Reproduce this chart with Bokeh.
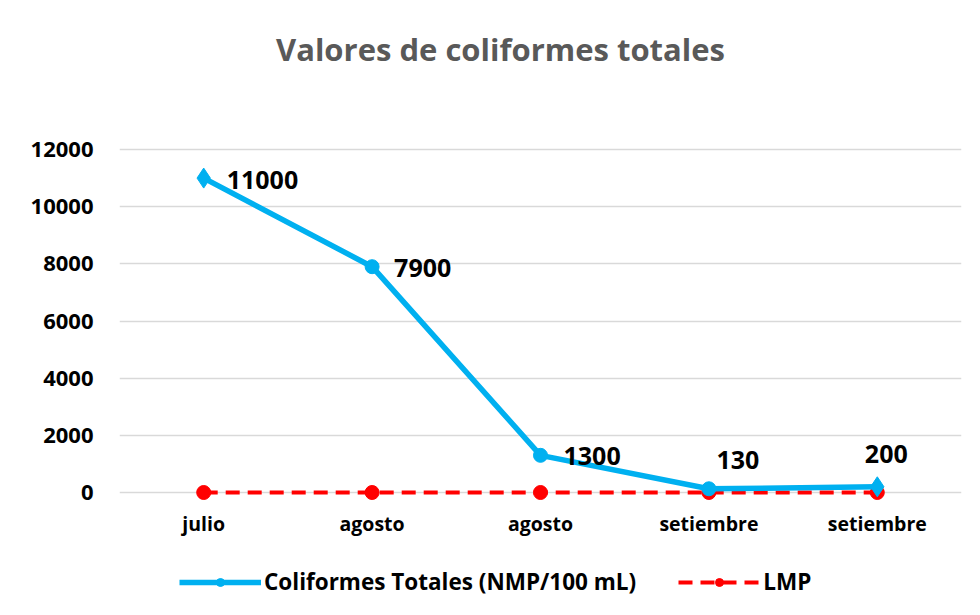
from bokeh.plotting import figure
from bokeh.models import (ColumnDataSource, Range1d, FixedTicker, Legend, LegendItem, Label)
from bokeh.core.properties import value
from bokeh.embed import file_html
from bokeh.resources import INLINE

title_text = "Valores de coliformes totales"
categories = ["julio", "agosto", "agosto", "setiembre", "setiembre"]
coliformes = [11000, 7900, 1300, 130, 200]
lmp = [0, 0, 0, 0, 0]
y_ticks = [0, 2000, 4000, 6000, 8000, 10000, 12000]

FONT = "Open Sans"
BLUE = "#00B0F0"
RED = "#FF0000"

xs = list(range(len(categories)))

# geometry (pixels): frame spans the whole height; value axis 0..12000 sits between 492 and 149
FRAME_LEFT, FRAME_RIGHT = 119, 961
ZERO_PX, TOP_PX, BOTTOM_PX = 492, 149, 605
PX_PER_UNIT = (ZERO_PX - TOP_PX) / 12000.0
Y_BOTTOM = -(BOTTOM_PX - ZERO_PX) / PX_PER_UNIT
Y_TOP = 12000 + TOP_PX / PX_PER_UNIT
X_START, X_END = -0.5, len(categories) - 0.5

p = figure(width=975, height=610, output_backend="svg", toolbar_location=None,
           x_range=Range1d(X_START, X_END), y_range=Range1d(Y_BOTTOM, Y_TOP),
           min_border_left=FRAME_LEFT, min_border_right=975 - FRAME_RIGHT,
           min_border_top=0, min_border_bottom=610 - BOTTOM_PX,
           background_fill_color="white", border_fill_color="white")
p.outline_line_color = None

# title placed at page (500, 48)
px_per_x = (FRAME_RIGHT - FRAME_LEFT) / (X_END - X_START)
title = Label(x=X_START + (500 - FRAME_LEFT) / px_per_x, y=Y_TOP - 48 / PX_PER_UNIT,
              text=title_text, text_align="center", text_baseline="middle",
              text_font=FONT, text_font_size="31px", text_font_style="bold",
              text_color="#595959")
p.add_layout(title)

p.xgrid.visible = False
p.xaxis.visible = False
p.ygrid.grid_line_color = "#d9d9d9"
p.ygrid.grid_line_width = 1.5
p.yaxis.ticker = FixedTicker(ticks=y_ticks)
p.yaxis.axis_line_color = None
p.yaxis.major_tick_line_color = None
p.yaxis.minor_tick_line_color = None
p.yaxis.major_label_text_font = FONT
p.yaxis.major_label_text_font_size = "22px"
p.yaxis.major_label_text_font_style = "bold"
p.yaxis.major_label_text_color = "#000000"
p.yaxis.major_label_standoff = 20

# category labels under the zero line
cat_src = ColumnDataSource(dict(x=xs, y=[0] * len(xs), lab=categories))
p.text("x", "y", text="lab", source=cat_src, y_offset=31,
       text_align="center", text_baseline="middle",
       text_font=value(FONT), text_font_size="19.5px", text_font_style="bold",
       text_color="#000000")

src = ColumnDataSource(dict(x=xs, y=coliformes, lab=[str(v) for v in coliformes],
                            lmp=lmp,
                            dx=[23, 22, 23, 29, 9], dy=[2, 1, 1, -29, -33],
                            align=["left", "left", "left", "center", "center"]))

# LMP
lmp_line = p.line("x", "lmp", source=src, line_color=RED, line_width=4, line_dash="14 8")
lmp_pts = p.scatter("x", "lmp", source=src, marker="circle", size=14,
                    fill_color=RED, line_color=RED)

# Coliformes
col_line = p.line("x", "y", source=src, line_color=BLUE, line_width=5.5)
mid = ColumnDataSource(dict(x=xs[1:-1], y=coliformes[1:-1]))
ends = ColumnDataSource(dict(x=[xs[0], xs[-1]], y=[coliformes[0], coliformes[-1]]))
col_pts = p.scatter("x", "y", source=mid, marker="circle", size=14,
                    fill_color=BLUE, line_color=BLUE)
col_end = p.scatter("x", "y", source=ends, marker="diamond", size=20,
                    fill_color=BLUE, line_color=BLUE)

p.text("x", "y", text="lab", source=src, x_offset="dx", y_offset="dy",
       text_align="align", text_baseline="middle",
       text_font=value(FONT), text_font_size="25px", text_font_style="bold",
       text_color="#000000")

legend = Legend(items=[
    LegendItem(label="Coliformes Totales (NMP/100 mL)", renderers=[col_line, col_pts]),
    LegendItem(label="LMP", renderers=[lmp_line, lmp_pts]),
], orientation="horizontal", location=(60, 8),
    label_text_font=FONT, label_text_font_size="22.5px", label_text_font_style="bold",
    label_text_color="#000000", glyph_width=82, glyph_height=20, spacing=42,
    border_line_color=None, background_fill_alpha=0, padding=6, margin=0, label_standoff=3)
p.add_layout(legend, "center")

open("out.html", "w").write(file_html(p, INLINE))
